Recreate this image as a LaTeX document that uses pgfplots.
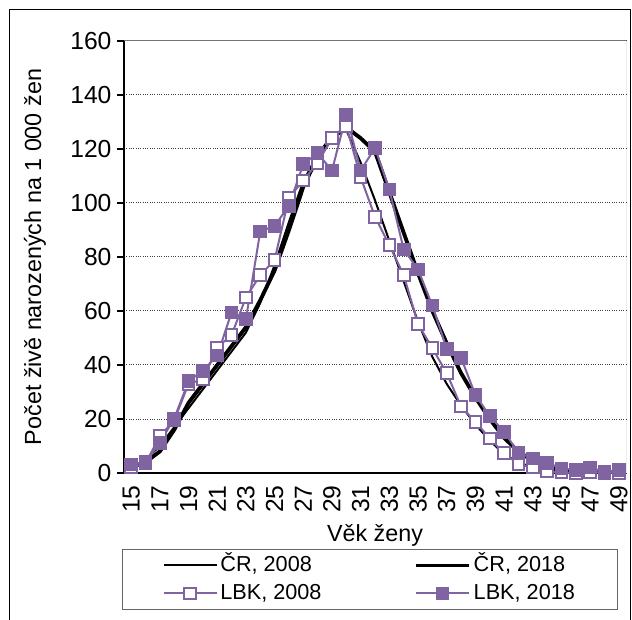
\documentclass[border=0pt]{standalone}
\usepackage{fontspec}
\setmainfont{Liberation Sans}
\usepackage{pgfplots}
\pgfplotsset{compat=1.18}
\definecolor{lbk}{RGB}{128,100,162}
\begin{document}
\begin{tikzpicture}[font=\fontsize{14pt}{16pt}\selectfont]
\useasboundingbox (0,0) rectangle (379.2pt,371.4pt);
\draw[black, line width=0.6pt] (5.4pt,-1pt) -- (5.4pt,365.4pt) -- (378pt,365.4pt) -- (378pt,-1pt);
\begin{axis}[
  at={(74.4pt,87.6pt)}, anchor=south west,
  scale only axis, width=301.2pt, height=259.2pt,
  xmin=14.5, xmax=49.5, ymin=0, ymax=160,
  xtick={15,17,...,49}, ytick={0,20,...,160},
  axis x line*=bottom, axis y line*=left,
  axis line style={black, line width=0.9pt, -},
  tick align=outside, major tick length=4pt,
  xtick style={draw=none}, ytick style={black, line width=0.8pt},
  ymajorgrids, major grid style={densely dotted, black!75, line width=0.6pt},
  /pgf/number format/assume math mode=true,
  tick label style={font=\fontsize{14.8pt}{16pt}\selectfont},
  xticklabel style={rotate=90, anchor=east},
  xlabel={Věk ženy}, xlabel style={at={(0.5,-0.1435)}, anchor=center},
  ylabel={Počet živě narozených na 1 000 žen}, ylabel style={at={(-0.1773,0.5)}, anchor=center},
  legend columns=2,
  legend cell align=left,
  legend style={at={(0.49,-0.2465)}, anchor=center, draw=black!60, line width=0.6pt,
    font=\fontsize{13pt}{15pt}\selectfont, inner xsep=24pt, inner ysep=1pt,
    nodes={inner ysep=2.4pt, inner xsep=1.5pt, text height=9.5pt, text depth=2.5pt},
    /tikz/every even column/.append style={column sep=54pt}},
  legend image code/.code={\draw[mark repeat=2,mark phase=2,#1] plot coordinates {(0pt,0pt) (16pt,0pt) (32pt,0pt)};},
]
\draw[black!55, line width=0.6pt] (rel axis cs:0,1) -- (rel axis cs:1,1) -- (rel axis cs:1,0);
\addplot[black, line width=1.2pt] coordinates {
(15,2) (16,5) (17,10) (18,17) (19,24) (20,31) (21,38) (22,45) (23,52) (24,63) (25,77) (26,93) (27,108) (28,118) (29,125) (30,127) (31,115) (32,101) (33,86) (34,71) (35,56) (36,43) (37,33) (38,25) (39,18) (40,12) (41,7) (42,4) (43,2) (44,1) (45,0.5) (46,0.3) (47,0.2) (48,0.1) (49,0.1)};
\addlegendentry{ČR, 2008}
\addplot[black, line width=2.3pt] coordinates {
(15,2) (16,4) (17,8) (18,16) (19,26) (20,33) (21,40) (22,47) (23,54) (24,64) (25,75) (26,90) (27,106) (28,117) (29,124) (30,128) (31,124) (32,119) (33,104) (34,89) (35,74) (36,60) (37,48) (38,37) (39,28) (40,20) (41,13) (42,8) (43,4.5) (44,2.3) (45,1.2) (46,0.6) (47,0.3) (48,0.2) (49,0.1)};
\addlegendentry{ČR, 2018}
\addplot[lbk, line width=1.2pt, mark=square*, mark size=3.5pt, mark options={fill=white, solid, line width=1.2pt}] coordinates {
(15,2.0) (16,3.5) (17,13.7) (18,19.5) (19,33.0) (20,34.7) (21,46.5) (22,51.1) (23,65.0) (24,73.3) (25,78.9) (26,102) (27,108.3) (28,114.9) (29,124) (30,128.5) (31,109.5) (32,94.9) (33,84.4) (34,73.3) (35,55.2) (36,46.2) (37,37.0) (38,24.6) (39,19.0) (40,12.8) (41,7.3) (42,3.3) (43,2.0) (44,0.5) (45,0.2) (46,0.1) (47,0.3) (48,0.1) (49,0.1)};
\addlegendentry{LBK, 2008}
\addplot[lbk, line width=1.2pt, mark=square*, mark size=3.5pt, mark options={fill=lbk, solid}] coordinates {
(15,3.2) (16,4.0) (17,11.2) (18,20.2) (19,34.0) (20,37.9) (21,43.5) (22,59.5) (23,57.0) (24,89.5) (25,91.5) (26,99.0) (27,114.4) (28,118.4) (29,112.0) (30,132.6) (31,112.0) (32,120.4) (33,105.0) (34,82.8) (35,75.4) (36,62.0) (37,46.0) (38,42.7) (39,28.9) (40,21.1) (41,15.3) (42,7.5) (43,5.4) (44,3.8) (45,1.7) (46,1.1) (47,2.0) (48,0.5) (49,1.1)};
\addlegendentry{LBK, 2018}
\end{axis}
\end{tikzpicture}
\end{document}
